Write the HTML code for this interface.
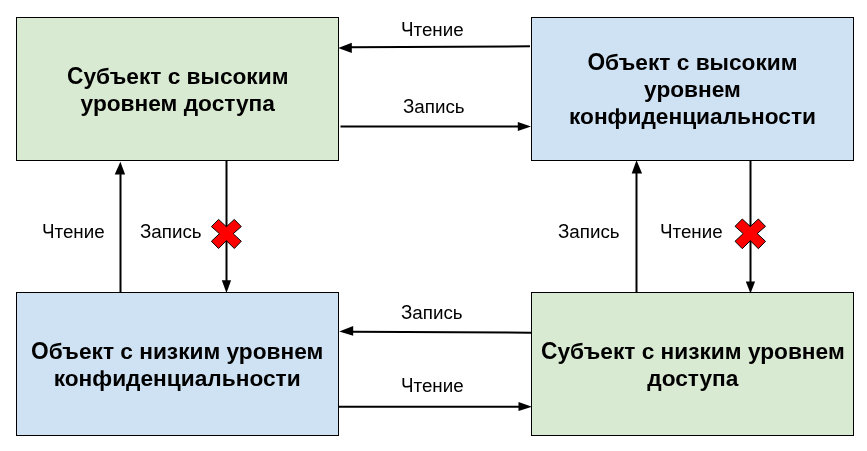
<!DOCTYPE html>
<html><head><meta charset="utf-8">
<style>
html,body{margin:0;padding:0;background:#fff;}
body{width:867px;height:451px;position:relative;overflow:hidden;font-family:"Liberation Sans",sans-serif;}
.box{position:absolute;box-sizing:border-box;width:323px;height:144px;border:1px solid #000;display:flex;align-items:center;justify-content:center;text-align:center;font-weight:bold;font-size:22.7px;line-height:26.8px;color:#000;}
.box span{will-change:transform;position:relative;top:0.5px;}
.g{background:#d9ead3;}
.b{background:#cfe2f3;}
.lbl{position:absolute;will-change:transform;font-size:18.8px;line-height:20px;white-space:nowrap;color:#000;}
.c{font-style:normal;display:inline-block;transform:scaleY(1.05);transform-origin:50% 21.26px;}
.lbl .c{transform-origin:50% 16.51px;}
svg{position:absolute;left:0;top:0;}
</style></head><body>
<div class="box g" style="left:16px;top:17px;"><span><i class="c">С</i>убъект с высоким<br>уровнем доступа</span></div>
<div class="box b" style="left:531px;top:17px;"><span><i class="c">О</i>бъект с высоким<br>уровнем<br>конфиденциальности</span></div>
<div class="box b" style="left:16px;top:292px;"><span><i class="c">О</i>бъект с низким уровнем<br>конфиденциальности</span></div>
<div class="box g" style="left:531px;top:292px;"><span><i class="c">С</i>убъект с низким уровнем<br>доступа</span></div>

<span class="lbl" style="left:401px;top:20px;"><i class="c">Ч</i>тение</span>
<span class="lbl" style="left:403px;top:96.8px;"><i class="c">З</i>апись</span>
<span class="lbl" style="left:42px;top:221.8px;"><i class="c">Ч</i>тение</span>
<span class="lbl" style="left:139.5px;top:221.8px;"><i class="c">З</i>апись</span>
<span class="lbl" style="left:557.5px;top:221.8px;"><i class="c">З</i>апись</span>
<span class="lbl" style="left:659.5px;top:221.8px;"><i class="c">Ч</i>тение</span>
<span class="lbl" style="left:401px;top:302.5px;"><i class="c">З</i>апись</span>
<span class="lbl" style="left:400.6px;top:375.8px;"><i class="c">Ч</i>тение</span>

<svg width="867" height="451" viewBox="0 0 867 451">
<g stroke="#000" stroke-width="2" fill="none">
<line x1="530" y1="46.3" x2="350" y2="47.3"/>
<line x1="340.5" y1="126.5" x2="519" y2="126.5"/>
<line x1="531" y1="332.7" x2="352" y2="331.7"/>
<line x1="339" y1="406.8" x2="519" y2="406.8"/>
<line x1="120.5" y1="292" x2="120.5" y2="172"/>
<line x1="226.5" y1="161" x2="226.5" y2="282"/>
<line x1="636.5" y1="292" x2="636.5" y2="172"/>
<line x1="750.5" y1="161" x2="750.5" y2="282"/>
</g>
<g fill="#000">
<polygon points="338.2,48.1 351.8,42.7 351.8,53.1"/>
<polygon points="531,126.5 517.8,122 517.8,131"/>
<polygon points="339.2,331.6 353.2,326 353.2,335.8"/>
<polygon points="532,406.7 518.5,402.1 518.5,410.9"/>
<polygon points="120.4,161.7 114.7,174.6 125.1,174.6"/>
<polygon points="226.5,293.1 221.8,280.3 231.1,280.3"/>
<polygon points="636.5,160.3 631.7,173.6 642.1,173.6"/>
<polygon points="750.5,293.5 745.8,281.6 755.1,281.6"/>
</g>
<g fill="#f00" stroke="#000" stroke-width="1" stroke-linejoin="miter">
<polygon transform="translate(226.4,233.8) scale(0.98) translate(-226.3,-233.7)" points="211,226.35 218.3,219 226.3,226.5 234.4,219 241.5,226.35 233.2,233.6 241.5,241.3 234.4,248.7 226.3,240.7 218.3,248.7 211,241.3 219.2,233.6"/>
<polygon transform="translate(524,0)" points="211,226.35 218.3,219 226.3,226.5 234.4,219 241.5,226.35 233.2,233.6 241.5,241.3 234.4,248.7 226.3,240.7 218.3,248.7 211,241.3 219.2,233.6"/>
</g>
</svg>
</body></html>
